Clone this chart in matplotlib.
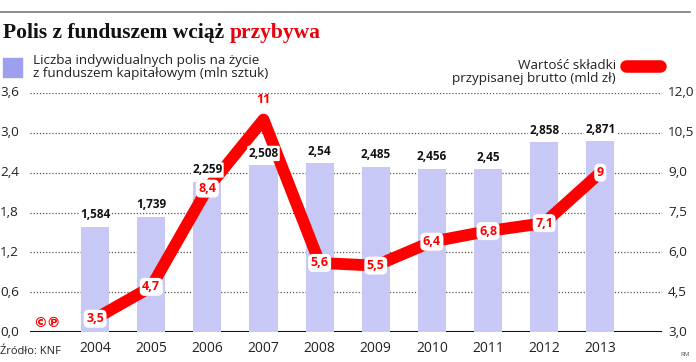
import numpy as np
import matplotlib.pyplot as plt
from matplotlib.patches import Rectangle
from matplotlib.lines import Line2D

years = ['2004', '2005', '2006', '2007', '2008', '2009', '2010', '2011', '2012', '2013']
policies = [1.584, 1.739, 2.259, 2.508, 2.54, 2.485, 2.456, 2.45, 2.858, 2.871]
policy_labels = ['1,584', '1,739', '2,259', '2,508', '2,54', '2,485', '2,456', '2,45', '2,858', '2,871']
premium = [3.5, 4.7, 8.4, 11, 5.6, 5.5, 6.4, 6.8, 7.1, 9]
premium_labels = ['3,5', '4,7', '8,4', '11', '5,6', '5,5', '6,4', '6,8', '7,1', '9']
left_ticks = [0.0, 0.6, 1.2, 1.8, 2.4, 3.0, 3.6]
right_ticks = [3.0, 4.5, 6.0, 7.5, 9.0, 10.5, 12.0]

BAR = '#c8c8f6'
RED = '#ff0000'
FONT = 'Open Sans'

W, H = 696, 362
fig = plt.figure(figsize=(W / 100, H / 100), dpi=100)

def fx(px):
    return px / W

def fy(py):
    return 1 - py / H

# top rule and title
fig.add_artist(Line2D([fx(0), fx(690)], [fy(12), fy(12)], color='#777777', lw=1.2))
t1 = fig.text(fx(3), fy(33), 'Polis z funduszem wciąż ', family='Liberation Serif',
              weight='bold', size=15.5, va='center', ha='left', color='#111111')
fig.canvas.draw()
bb = t1.get_window_extent()
fig.text(bb.x1 / W, fy(33), 'przybywa', family='Liberation Serif', weight='bold',
         size=15.5, va='center', ha='left', color='#e8000b')

# legends
fig.add_artist(Rectangle((fx(3), fy(77)), fx(19), 19 / H, color='#9f9ff0', transform=fig.transFigure))
fig.text(fx(33), fy(67), 'Liczba indywidualnych polis na życie\nz funduszem kapitałowym (mln sztuk)',
         family=FONT, size=9.7, va='center', ha='left', color='#222222', linespacing=0.95)
fig.text(fx(616), fy(72), 'Wartość składki\nprzypisanej brutto (mld zł)',
         family=FONT, size=9.7, va='center', ha='right', color='#222222', linespacing=0.95, multialignment='right')
fig.add_artist(Line2D([fx(626), fx(660)], [fy(66), fy(66)], color=RED, lw=9,
                      solid_capstyle='round'))

# axes
ax = fig.add_axes([fx(30), fy(332), fx(662) - fx(30), fy(93) - fy(332)])
x = np.arange(len(years))
ax.set_xlim(-1.16, 10.1)
ax.set_ylim(0, 3.6)
for t in left_ticks[1:]:
    ax.axhline(t, color='#555555', lw=0.9, ls=(0, (1, 1.5)), zorder=0)
ax.axhline(0, color='#111111', lw=2.2, zorder=1)
ax.bar(x, policies, width=0.5, color=BAR, zorder=2)
ax.axis('off')

ax2 = ax.twinx()
ax2.set_ylim(3, 12)
ax2.set_xlim(ax.get_xlim())
ax2.plot(x, premium, color=RED, lw=8.5, solid_joinstyle='round', solid_capstyle='butt', zorder=3)

# bar labels drawn above the line
for xi, v, lab in zip(x, policies, policy_labels):
    ax2.annotate(lab, (xi, v), xycoords=ax.transData, xytext=(0, 4), textcoords='offset points',
                 ha='center', va='bottom', family=FONT, weight='bold', size=8.5, color='#111111',
                 zorder=5, bbox=dict(boxstyle='round,pad=0.1', fc='white', ec='none'))

for xi, v, lab in zip(x, premium, premium_labels):
    if lab == '11':
        ax2.annotate(lab, (xi, v), xytext=(0, 10), textcoords='offset points', ha='center', va='bottom',
                     family=FONT, weight='bold', size=9, color=RED, zorder=6)
    else:
        ax2.annotate(lab, (xi, v), ha='center', va='center', family=FONT, weight='bold', size=9,
                     color=RED, zorder=6,
                     bbox=dict(boxstyle='round,pad=0.2,rounding_size=0.4', fc='white', ec='none'))
ax2.axis('off')

# tick labels
for t in left_ticks:
    ax.text(fx(0), ax.transData.transform((0, t))[1] / H, f'{t:.1f}'.replace('.', ','),
            transform=fig.transFigure, ha='left', va='center', family=FONT, size=9.7, color='#222222')
for t in right_ticks:
    ax2.text(fx(668), ax2.transData.transform((0, t))[1] / H, f'{t:.1f}'.replace('.', ','),
             transform=fig.transFigure, ha='left', va='center', family=FONT, size=9.7, color='#222222')
for xi, yr in zip(x, years):
    ax.text(xi, -0.13, yr, ha='center', va='top', family=FONT, size=10, color='#222222',
            transform=ax.transData, clip_on=False)

fig.text(fx(33), fy(323), '©℗', family='DejaVu Sans', weight='bold', size=10, color=RED,
         ha='left', va='center')
fig.text(fx(0), fy(351), 'Źródło: KNF', family=FONT, size=8, color='#222222', ha='left', va='center')
fig.text(fx(680), fy(355), 'RM', family=FONT, size=4.5, color='#555555', ha='left', va='center')

fig.savefig('out.png', dpi=100)
